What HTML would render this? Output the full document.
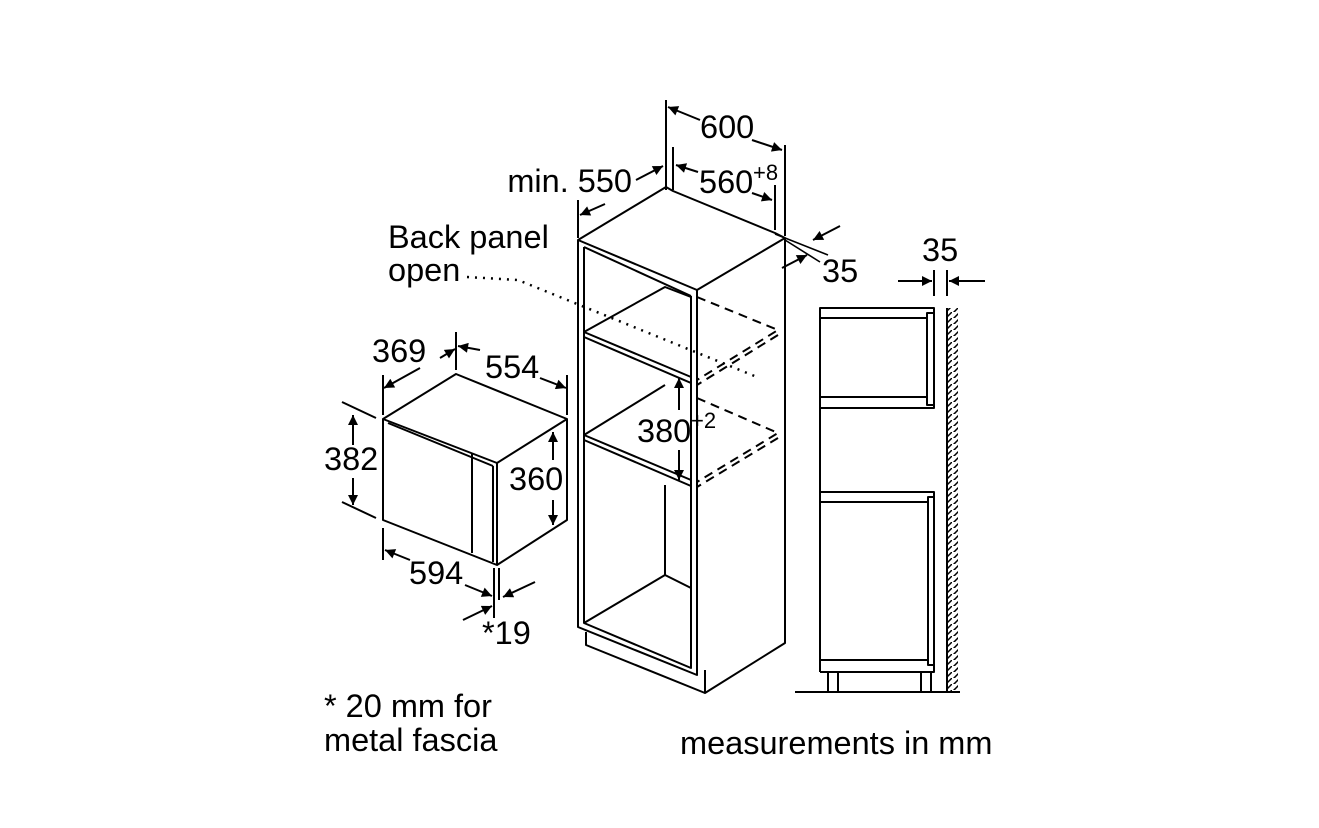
<!DOCTYPE html>
<html><head><style>
html,body{margin:0;padding:0;background:#fff;}
svg{display:block;}
text{font-family:"Liberation Sans",Arial,sans-serif;fill:#000;}
</style></head><body>
<svg width="1319" height="828" viewBox="0 0 1319 828" xmlns="http://www.w3.org/2000/svg">
<defs>
<marker id="a" viewBox="0 0 10 10" refX="10" refY="5" markerWidth="17" markerHeight="10" markerUnits="userSpaceOnUse" orient="auto"><path d="M0,0L10,5L0,10z" fill="#000"/></marker>
<pattern id="h" width="8" height="6" patternUnits="userSpaceOnUse"><path d="M0,8L8,0" stroke="#000" stroke-width="1.5"/></pattern>
</defs>
<g fill="none" stroke="#000" stroke-width="2" stroke-linejoin="round">
<!-- tall cabinet -->
<path d="M578,240L666,187L673,191L775,233L785,238L697,290L578,240Z"/>
<path d="M584,247L691,296"/>
<path d="M578,240L578,627L697,675L697,290"/>
<path d="M584,247L584,623L691,668L691,296"/>
<path d="M785,238L785,643L705,693L705,670"/>
<path d="M586,632L586,645L705,693"/>
<path d="M584,332L691,377M584,337L691,383"/>
<path d="M584,435L691,480M584,440L691,486"/>
<path d="M584,332L665,287L691,297"/>
<path d="M584,435L665,385"/>
<path d="M665,485L665,575L584,623M665,575L691,588"/>
<g stroke-dasharray="9,6">
<path d="M697,297L778,330L697,380M778,335L697,385"/>
<path d="M697,398L778,433L697,482M778,438L697,487"/>
</g>
<path d="M467,277L518,280L757,377" stroke-dasharray="2,6" stroke-width="2.5"/>
<!-- dims cabinet -->
<path d="M666,100V190M785,145V236M673,147V190M775,185V230M578,200V238"/>
<g marker-end="url(#a)">
<path d="M700,120L668,107"/><path d="M752,140L782,150"/>
<path d="M636,180L663,166"/><path d="M605,204L580,215"/>
<path d="M698,172L676,165"/><path d="M752,193L772,200"/>
<path d="M840,226L813,240"/><path d="M782,268L807,255"/>
<path d="M679,450V480"/><path d="M679,410V378"/>
</g>
<path d="M775,234L828,255M785,240L820,262" stroke-width="1.6"/>
<!-- microwave -->
<path d="M383,419L456,374L567,419L497,463L383,419Z"/>
<path d="M388,423L493,466"/>
<path d="M383,419V520L497,565L567,520V419M497,463V565M493,466V562"/>
<path d="M472,453V553"/>
<path d="M383,375V415M456,332V370M567,375V415"/>
<path d="M342,402L376,418M342,502L376,518"/>
<path d="M383,528V560M494,568V618M499,568V600"/>
<g marker-end="url(#a)">
<path d="M420,368L384,388"/><path d="M440,358L455,349"/>
<path d="M480,350L458,346"/><path d="M540,378L566,388"/>
<path d="M353,445V415"/><path d="M353,478V505"/>
<path d="M553,460V432"/><path d="M553,500V525"/>
<path d="M410,560L385,550"/><path d="M465,585L492,596"/>
<path d="M463,620L492,606"/><path d="M535,582L503,597"/>
<path d="M898,281H932"/><path d="M985,281H949"/>
</g>
<!-- side view -->
<path d="M820,672V308H934V408H820M820,318H927M820,397H927M927,313H934V405H927Z"/>
<path d="M820,492H934V672H820M820,502H927M820,660H927M928,497H934V665H928Z"/>
<path d="M828,672V692M838,672V692M921,672V692M931,672V692"/>
<path d="M795,692H960M947,308V692"/>
<path d="M934,270V296M947,270V296"/>
</g>
<rect x="948" y="308" width="10" height="384" fill="url(#h)"/>
<g font-size="32.5">
<text x="700" y="138">600</text>
<text x="632" y="192" text-anchor="end">min. 550</text>
<text x="699" y="193">560</text><text x="753" y="180" font-size="22">+8</text>
<text x="822" y="282">35</text>
<text x="922" y="261">35</text>
<text x="388" y="248">Back panel</text>
<text x="388" y="281">open</text>
<text x="372" y="362">369</text>
<text x="485" y="378">554</text>
<text x="324" y="470">382</text>
<text x="509" y="490">360</text>
<text x="637" y="442">380</text><text x="691" y="428" font-size="22">+2</text>
<text x="409" y="584">594</text>
<text x="482" y="644">*19</text>
<text x="324" y="717">* 20 mm for</text>
<text x="324" y="751">metal fascia</text>
<text x="680" y="754">measurements in mm</text>
</g>
</svg>
</body></html>
